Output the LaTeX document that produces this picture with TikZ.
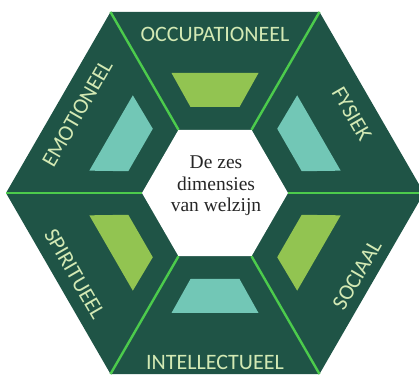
\documentclass[tikz,border=0pt]{standalone}
\usepackage{fontspec}
\setmainfont{Liberation Serif}
\newfontfamily\labfont{Carlito}
\definecolor{dkg}{HTML}{1F5446}
\definecolor{trapA}{HTML}{92C451}
\definecolor{trapB}{HTML}{72C7B6}
\definecolor{divg}{HTML}{4CCB4C}
\definecolor{labc}{HTML}{D3E9B4}
\tikzset{
  divline/.style={draw=divg, line width=2.4pt},
  lab/.style={font=\labfont\fontsize{22}{24}\selectfont, text=labc, inner sep=0pt},
  ctrtext/.style={align=center, font=\fontsize{19.5}{21.5}\selectfont, text=black!85, inner sep=0pt}
}
\begin{document}
\begin{tikzpicture}[x=1pt,y=1pt]
\useasboundingbox (0,0) rectangle (419,374);
\clip (0,0) rectangle (419,374);
\begin{scope}[shift={(215,181)}]
  \foreach \i/\a in {0/0,1/60,2/120,3/180,4/240,5/300} {
    \coordinate (o\i) at (\a:209);
    \coordinate (n\i) at (\a:73);
  }
  \fill[dkg] (o0) -- (o1) -- (o2) -- (o3) -- (o4) -- (o5) -- cycle;
  \foreach \t/\c in {90/trapA,30/trapB,-30/trapA,-90/trapB,-150/trapA,150/trapB} {
    \fill[\c, rotate=\t-90] (-24.5,86) -- (24.5,86) -- (43.5,120) -- (-43.5,120) -- cycle;
  }
  \fill[white] (n0) -- (n1) -- (n2) -- (n3) -- (n4) -- (n5) -- cycle;
  \foreach \i in {0,...,5} { \draw[divline] (n\i) -- (o\i); }
  \node[lab] (occ) at (90:159) {OCCUPATIONEEL};
  \node[lab, rotate=-60] (fys) at (30:158) {FYSIEK};
  \node[lab, rotate=60] (soc) at (-30:164) {SOCIAAL};
  \node[lab] (int) at (-90:169) {INTELLECTUEEL};
  \node[lab, rotate=-60] (spi) at (-150:162) {SPIRITUEEL};
  \node[lab, rotate=60] (emo) at (150:159) {EMOTIONEEL};
  \node[ctrtext] (ctr) at (1,7) {De zes\\dimensies\\van welzijn};
\end{scope}
\end{tikzpicture}
\end{document}
